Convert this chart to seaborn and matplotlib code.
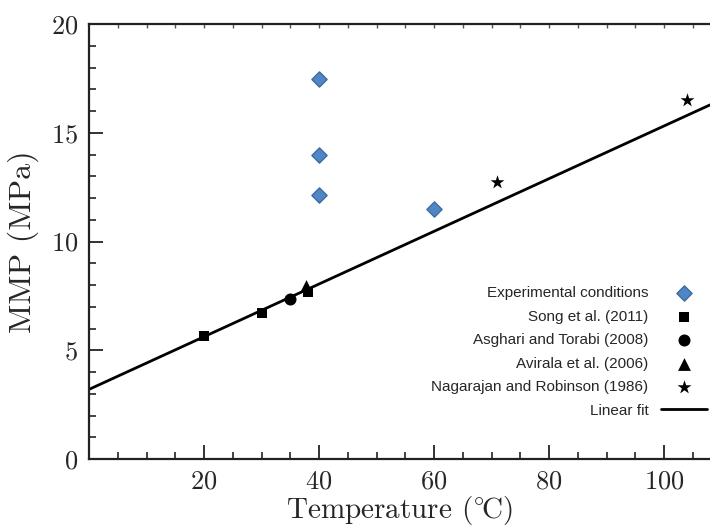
import matplotlib
matplotlib.use("Agg")
import matplotlib.pyplot as plt
import seaborn as sns
import pandas as pd
from matplotlib.ticker import MultipleLocator

# ---- data ----
exp_x = [40, 40, 40, 60]
exp_y = [17.45, 14.0, 12.15, 11.5]
song_x = [20, 30, 38]
song_y = [5.65, 6.7, 7.7]
asghari_x = [35]
asghari_y = [7.35]
avirala_x = [37.8]
avirala_y = [7.95]
nagarajan_x = [71, 104]
nagarajan_y = [12.75, 16.5]
fit_x = [0, 108]
fit_y = [3.2, 16.28]
xticks = [20, 40, 60, 80, 100]
yticks = [0, 5, 10, 15, 20]

sns.set_theme(style="ticks")
plt.rcParams['font.family'] = ['cmr10', 'DejaVu Serif']
plt.rcParams['mathtext.fontset'] = 'cm'
plt.rcParams['axes.formatter.use_mathtext'] = True

fig = plt.figure(figsize=(7.1, 5.31), dpi=100)
ax = fig.add_axes([89/710, 72/531, 1 - 89/710, 435/531])

sns.lineplot(x=fit_x, y=fit_y, ax=ax, color='black', lw=2, label='Linear fit', zorder=2)
sns.scatterplot(x=exp_x, y=exp_y, ax=ax, marker='D', s=60, color='#4F86C6',
                edgecolor='#3D6B9E', linewidth=1, label='Experimental conditions', zorder=3)
sns.scatterplot(x=song_x, y=song_y, ax=ax, marker='s', s=50, color='black',
                edgecolor='black', linewidth=0, label='Song et al. (2011)', zorder=3)
sns.scatterplot(x=asghari_x, y=asghari_y, ax=ax, marker='o', s=75, color='black',
                edgecolor='black', linewidth=0, label='Asghari and Torabi (2008)', zorder=3)
sns.scatterplot(x=avirala_x, y=avirala_y, ax=ax, marker='^', s=85, color='black',
                edgecolor='black', linewidth=0, label='Avirala et al. (2006)', zorder=4)
sns.scatterplot(x=nagarajan_x, y=nagarajan_y, ax=ax, marker='*', s=110, color='black',
                edgecolor='black', linewidth=0, label='Nagarajan and Robinson (1986)', zorder=3)

ax.set_xlim(0, 108)
ax.set_ylim(0, 20)
ax.set_xticks(xticks)
ax.set_yticks(yticks)
ax.xaxis.set_minor_locator(MultipleLocator(5))
ax.yaxis.set_minor_locator(MultipleLocator(1))
ax.tick_params(which='major', direction='in', length=10, width=1.3, color='#222222',
               labelsize=19, pad=8, top=False, right=False)
ax.tick_params(which='minor', direction='in', length=5, width=1.2, color='#222222',
               top=False, right=False)
for s in ['left', 'bottom', 'top']:
    ax.spines[s].set_linewidth(1.6)
    ax.spines[s].set_color('#222222')
ax.spines['right'].set_visible(False)

sec = ax.secondary_xaxis('top')
sec.set_xticks(list(range(5, 108, 5)))
sec.tick_params(direction='in', length=3, width=1, labeltop=False, color='#555555')
sec.spines['top'].set_visible(False)

ax.set_xlabel(r'Temperature ($^{\circ}\!$C)', fontsize=21, labelpad=0)
ax.set_ylabel('MMP (MPa)', fontsize=23, labelpad=8)

handles, labels = ax.get_legend_handles_labels()
order = [1, 2, 3, 4, 5, 0]
leg = ax.legend([handles[i] for i in order], [labels[i] for i in order],
                loc='center right', bbox_to_anchor=(718/710, (531-352)/531),
                bbox_transform=fig.transFigure, frameon=False, markerfirst=False,
                prop={'family': 'Liberation Sans', 'size': 11}, handlelength=3.0,
                handletextpad=0.85, labelspacing=0.62, borderpad=0.2)

fig.savefig('out.png', dpi=100)
